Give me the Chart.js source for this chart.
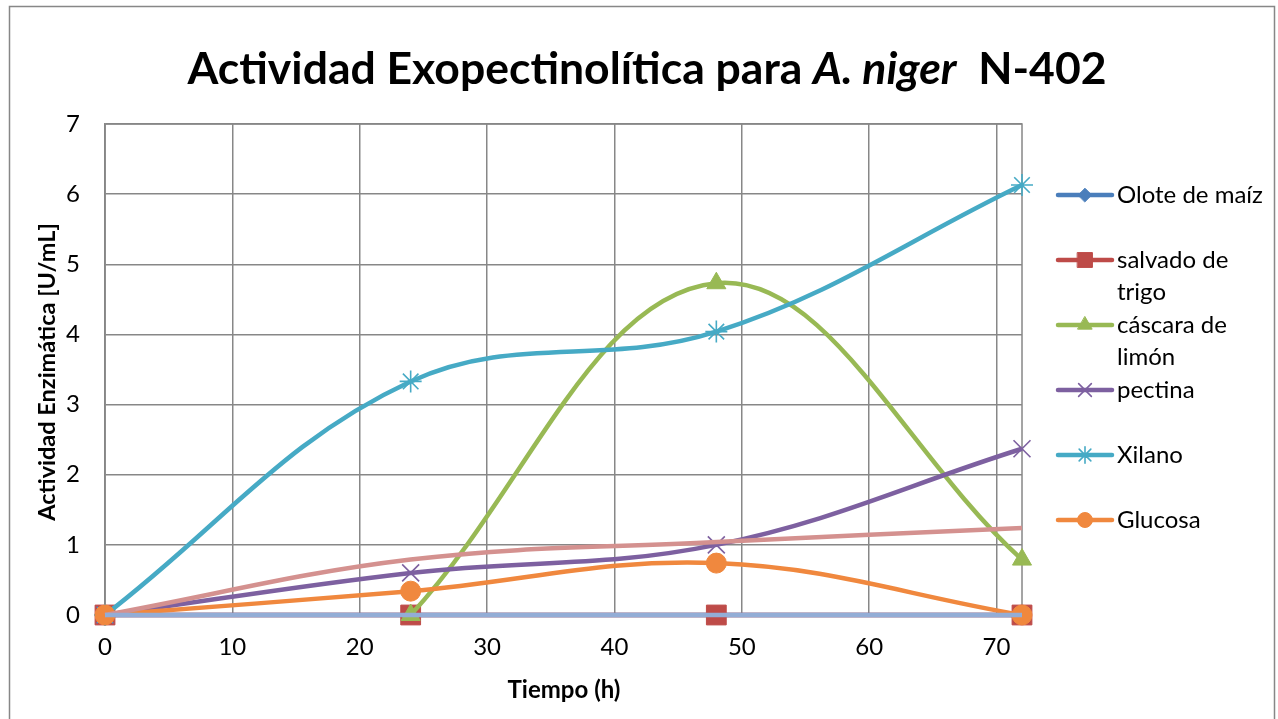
<!DOCTYPE html>
<html lang="es">
<head>
<meta charset="utf-8">
<title>Actividad Exopectinolítica para A. niger N-402</title>
<script src="https://cdn.jsdelivr.net/npm/chart.js@4.4.1/dist/chart.umd.min.js"></script>
<style>
    html, body { margin: 0; padding: 0; background: #fff; }
    #contenedor { position: relative; width: 1278px; height: 719px; }
    #titulo {
        position: absolute; left: 0; top: 40px; width: 1294px;
        text-align: center; font: bold 44.5px Lato, "Open Sans", sans-serif;
        line-height: 54px; color: #000; white-space: pre;
    }
    canvas { position: absolute; left: 0; top: 0; }
</style>
</head>
<body>
<div id="contenedor">
    <canvas id="grafico" width="1278" height="719"></canvas>
    <div id="titulo">Actividad Exopectinolítica para <i>A. niger</i>  N-402</div>
</div>
<script>
// datos
const tiempos = [0, 24, 48, 72];
const oloteMaiz = [0, 0, 0, 0];
const salvadoTrigo = [0, 0, 0, 0];
const cascaraLimon = [null, 0, 4.73, 0.79];
const pectina = [0, 0.6, 1.0, 2.37];
const xilano = [0, 3.33, 4.04, 6.13];
const glucosa = [0, 0.34, 0.74, 0];
const serieRosa = [0, 0.79, 1.04, 1.24];
const serieAzulClaro = [0, 0, 0, 0];

const ticksX = [0, 10, 20, 30, 40, 50, 60, 70];
const ticksY = [0, 1, 2, 3, 4, 5, 6, 7];

// nombres de la leyenda (con saltos de linea como en el original)
const nombresLeyenda = [["Olote de maíz"], ["salvado de", "trigo"], ["cáscara de", "limón"], ["pectina"], ["Xilano"], ["Glucosa"]];

const FUENTE = 'Lato, "Open Sans", sans-serif';
const GRIS = "#878787";

function puntos(valores) {
    return valores.map((v, i) => ({ x: tiempos[i], y: v }));
}

function serie(nombre, valores, color, estilo, radio) {
    const fino = estilo === "crossRot" || estilo === "star";
    return {
        label: nombre,
        data: puntos(valores),
        borderColor: color,
        backgroundColor: color,
        borderWidth: 4.5,
        pointStyle: estilo,
        pointRadius: radio,
        pointBorderColor: color,
        pointBackgroundColor: color,
        pointBorderWidth: fino ? 1.6 : 1,
        tension: 0.38,
        clip: false,
    };
}

const datasets = [
    serie("Olote de maíz", oloteMaiz, "#4A7EBB", "rectRot", 9),
    serie("salvado de trigo", salvadoTrigo, "#BE4B48", "rect", 14),
    serie("cáscara de limón", cascaraLimon, "#98B954", "triangle", 11),
    serie("pectina", pectina, "#7D60A0", "crossRot", 12),
    serie("Xilano", xilano, "#46AAC5", "star", 11),
    serie("Glucosa", glucosa, "#F0883E", "circle", 10),
    serie("", serieRosa, "#D4918F", false, 0),
    serie("", serieAzulClaro, "#93ADD6", false, 0),
];
// las series posteriores se dibujan encima (como en Excel)
datasets.forEach((d, i) => { d.order = 20 - i; });

// marco, borde del area, titulos de ejes y leyenda
const decoracion = {
    id: "decoracion",
    beforeDraw(chart) {
        const ctx = chart.ctx;
        ctx.save();
        ctx.fillStyle = "#fff";
        ctx.fillRect(0, 0, chart.width, chart.height);
        ctx.strokeStyle = GRIS;
        ctx.lineWidth = 1.5;
        ctx.strokeRect(9.5, 6.5, 1265, 730);
        ctx.restore();
    },
    beforeDatasetsDraw(chart) {
        const a = chart.chartArea;
        const ctx = chart.ctx;
        ctx.save();
        ctx.strokeStyle = GRIS;
        ctx.lineWidth = 1.5;
        ctx.strokeRect(a.left, a.top, a.right - a.left, a.bottom - a.top);
        ctx.restore();
    },
    afterDraw(chart) {
        const ctx = chart.ctx;
        ctx.save();
        ctx.fillStyle = "#000";
        ctx.textAlign = "center";
        ctx.textBaseline = "middle";
        // titulo eje x
        ctx.font = "bold 24px " + FUENTE;
        ctx.fillText("Tiempo (h)", 564, 690);
        // titulo eje y
        ctx.translate(47, 372);
        ctx.rotate(-Math.PI / 2);
        ctx.font = "bold 23.5px " + FUENTE;
        ctx.fillText("Actividad Enzimática [U/mL]", 0, 0);
        ctx.restore();

        // leyenda
        ctx.save();
        const filas = [195, 260, 325, 390, 455, 520];
        nombresLeyenda.forEach((lineas, i) => {
            const d = chart.data.datasets[i];
            const y = filas[i];
            ctx.strokeStyle = d.borderColor;
            ctx.lineWidth = 4.5;
            ctx.lineCap = "round";
            ctx.beginPath();
            ctx.moveTo(1058, y);
            ctx.lineTo(1112, y);
            ctx.stroke();
            ctx.fillStyle = d.pointBackgroundColor;
            ctx.lineWidth = d.pointBorderWidth;
            Chart.helpers.drawPoint(ctx, {
                pointStyle: d.pointStyle,
                radius: d.pointRadius * 0.75,
                rotation: 0,
                borderWidth: d.pointBorderWidth,
            }, 1085, y);
            ctx.fillStyle = "#000";
            ctx.font = "24px " + FUENTE;
            ctx.textAlign = "left";
            ctx.textBaseline = "middle";
            lineas.forEach((t, j) => ctx.fillText(t, 1117, y + j * 32));
        });
        ctx.restore();
    },
};

new Chart(document.getElementById("grafico"), {
    type: "line",
    data: { datasets: datasets },
    options: {
        responsive: false,
        animation: false,
        events: [],
        layout: { padding: { top: 124, right: 256, left: 0, bottom: 0 } },
        plugins: {
            legend: { display: false },
            title: { display: false },
            tooltip: { enabled: false },
        },
        scales: {
            x: {
                type: "linear",
                min: 0,
                max: 72,
                afterFit: (s) => { s.height = 104; },
                afterBuildTicks: (s) => { s.ticks = ticksX.map((v) => ({ value: v })); },
                grid: { color: GRIS, lineWidth: 1.5, drawTicks: false },
                border: { color: GRIS, width: 1.5 },
                ticks: { color: "#000", font: { family: FUENTE, size: 24 }, padding: 18 },
            },
            y: {
                min: 0,
                max: 7,
                afterFit: (s) => { s.width = 105; },
                afterBuildTicks: (s) => { s.ticks = ticksY.map((v) => ({ value: v })); },
                grid: { color: GRIS, lineWidth: 1.5, drawTicks: false },
                border: { color: GRIS, width: 1.5 },
                ticks: { color: "#000", font: { family: FUENTE, size: 24 }, padding: 25 },
            },
        },
    },
    plugins: [decoracion],
});
</script>
</body>
</html>
